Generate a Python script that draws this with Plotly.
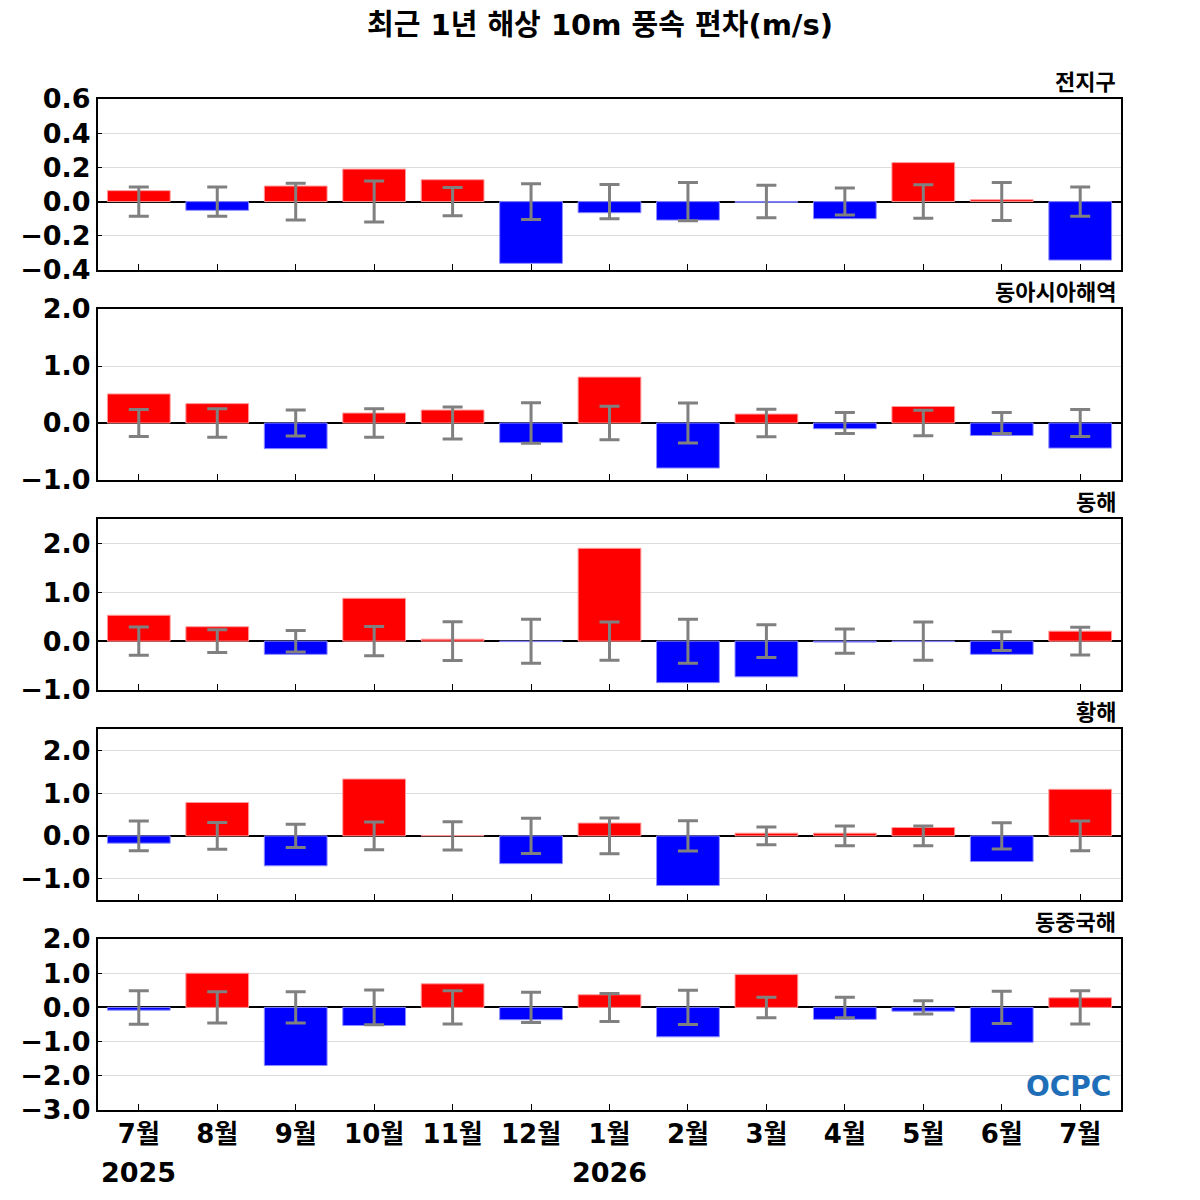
import plotly.graph_objects as go
from plotly.subplots import make_subplots

# x categories (13 months, Jul 2025 .. Jul 2026)
months = ["7월", "8월", "9월", "10월", "11월", "12월", "1월",
          "2월", "3월", "4월", "5월", "6월", "7월"]
year_labels = ["2025", "2026"]
year_pos = [0, 6]

region_names = ["전지구", "동아시아해역", "동해", "황해", "동중국해"]

# anomalies (m/s) and +/- spread for error bars
global_anom = [0.064, -0.051, 0.091, 0.19, 0.128, -0.361, -0.065, -0.108, -0.004, -0.10, 0.228, 0.011, -0.342]
global_sd = [0.086, 0.086, 0.108, 0.12, 0.083, 0.105, 0.10, 0.112, 0.095, 0.079, 0.098, 0.111, 0.086]

eastasia_anom = [0.51, 0.34, -0.45, 0.175, 0.227, -0.344, 0.805, -0.79, 0.157, -0.10, 0.29, -0.22, -0.44]
eastasia_sd = [0.235, 0.25, 0.23, 0.25, 0.28, 0.355, 0.295, 0.35, 0.24, 0.185, 0.225, 0.185, 0.235]

eastsea_anom = [0.53, 0.295, -0.27, 0.877, 0.04, -0.01, 1.90, -0.85, -0.73, -0.02, -0.01, -0.27, 0.205]
eastsea_sd = [0.29, 0.235, 0.22, 0.30, 0.395, 0.45, 0.39, 0.45, 0.335, 0.25, 0.39, 0.19, 0.285]

yellow_anom = [-0.17, 0.78, -0.70, 1.33, 0.01, -0.65, 0.30, -1.16, 0.063, 0.063, 0.196, -0.60, 1.09]
yellow_sd = [0.35, 0.315, 0.27, 0.325, 0.33, 0.415, 0.42, 0.355, 0.205, 0.23, 0.23, 0.305, 0.35]

ecs_anom = [-0.08, 1.0, -1.70, -0.53, 0.69, -0.36, 0.37, -0.86, 0.96, -0.35, -0.11, -1.02, 0.28]
ecs_sd = [0.49, 0.455, 0.455, 0.51, 0.485, 0.445, 0.41, 0.5, 0.30, 0.30, 0.195, 0.47, 0.485]

anoms = [global_anom, eastasia_anom, eastsea_anom, yellow_anom, ecs_anom]
sds = [global_sd, eastasia_sd, eastsea_sd, yellow_sd, ecs_sd]

y_ranges = [[-0.4, 0.6], [-1.0, 2.0], [-1.0, 2.5], [-1.5, 2.5], [-3.0, 2.0]]
y_dticks = [0.2, 1.0, 1.0, 1.0, 1.0]

FONT = "DejaVu Sans, Noto Sans CJK KR, sans-serif"
KFONT = "Noto Sans CJK KR, DejaVu Sans, sans-serif"

x = list(range(len(months)))

fig = make_subplots(rows=5, cols=1, vertical_spacing=39 / 1011)

for i in range(5):
    row = i + 1
    vals = anoms[i]
    colors = ["#ff0000" if v >= 0 else "#0000ff" for v in vals]
    edges = ["#ff9a9a" if v >= 0 else "#8c8cff" for v in vals]
    fig.add_trace(
        go.Bar(x=x, y=vals, width=0.8,
               marker=dict(color=colors, line=dict(color=edges, width=1)),
               showlegend=False, hoverinfo="y"),
        row=row, col=1
    )
    fig.add_trace(
        go.Scatter(x=x, y=[0] * len(x), mode="markers",
                   marker=dict(size=1, opacity=0),
                   error_y=dict(type="data", array=sds[i], symmetric=True,
                                color="#808080", thickness=3, width=10),
                   showlegend=False, hoverinfo="skip"),
        row=row, col=1
    )
    fig.update_yaxes(range=y_ranges[i], dtick=y_dticks[i], tick0=0,
                     tickformat=".1f", showline=True, linecolor="black",
                     linewidth=2, mirror=True, ticks="inside", ticklen=4,
                     tickcolor="black", showgrid=True, gridcolor="#dcdcdc",
                     zeroline=True, zerolinecolor="black", zerolinewidth=2,
                     tickfont=dict(family=FONT, size=27, color="black", weight="bold"),
                     row=row, col=1)
    fig.update_xaxes(range=[-0.52, 12.52], tickvals=x, ticktext=months,
                     showticklabels=(row == 5), showline=True,
                     linecolor="black", linewidth=2, mirror=True,
                     ticks="inside", ticklen=6, tickcolor="black",
                     showgrid=False, zeroline=False,
                     tickfont=dict(family=FONT, size=26, color="black", weight="bold"),
                     row=row, col=1)
    yref = "y domain" if row == 1 else "y%d domain" % row
    fig.add_annotation(text=region_names[i], xref="paper", yref=yref,
                       x=1, y=1, xanchor="right", yanchor="bottom",
                       xshift=-3, yshift=1, showarrow=False,
                       font=dict(family=KFONT, size=22, color="black", weight="bold"))

for yl, xp in zip(year_labels, year_pos):
    fig.add_annotation(text=yl, xref="x5", yref="paper", x=xp, y=0,
                       yshift=-62, yanchor="middle", showarrow=False,
                       font=dict(family=FONT, size=27, color="black", weight="bold"))

# logo text
fig.add_annotation(text="OCPC", xref="paper", yref="paper", x=0.992, y=0.0,
                   xanchor="right", yanchor="bottom", yshift=5, showarrow=False,
                   font=dict(family="DejaVu Sans", size=28, color="#1f6fb8", weight="bold"))

fig.update_layout(
    width=1200, height=1200,
    margin=dict(l=85, r=87, t=91, b=98),
    paper_bgcolor="white", plot_bgcolor="white",
    barmode="overlay",
    title=dict(text="최근 1년 해상 10m 풍속 편차(m/s)", x=592 / 1200, xanchor="center",
               xref="container", y=1 - 17 / 1200, yanchor="middle",
               font=dict(family=FONT, size=29, color="black", weight="bold")),
)

fig.write_html("out.html")
